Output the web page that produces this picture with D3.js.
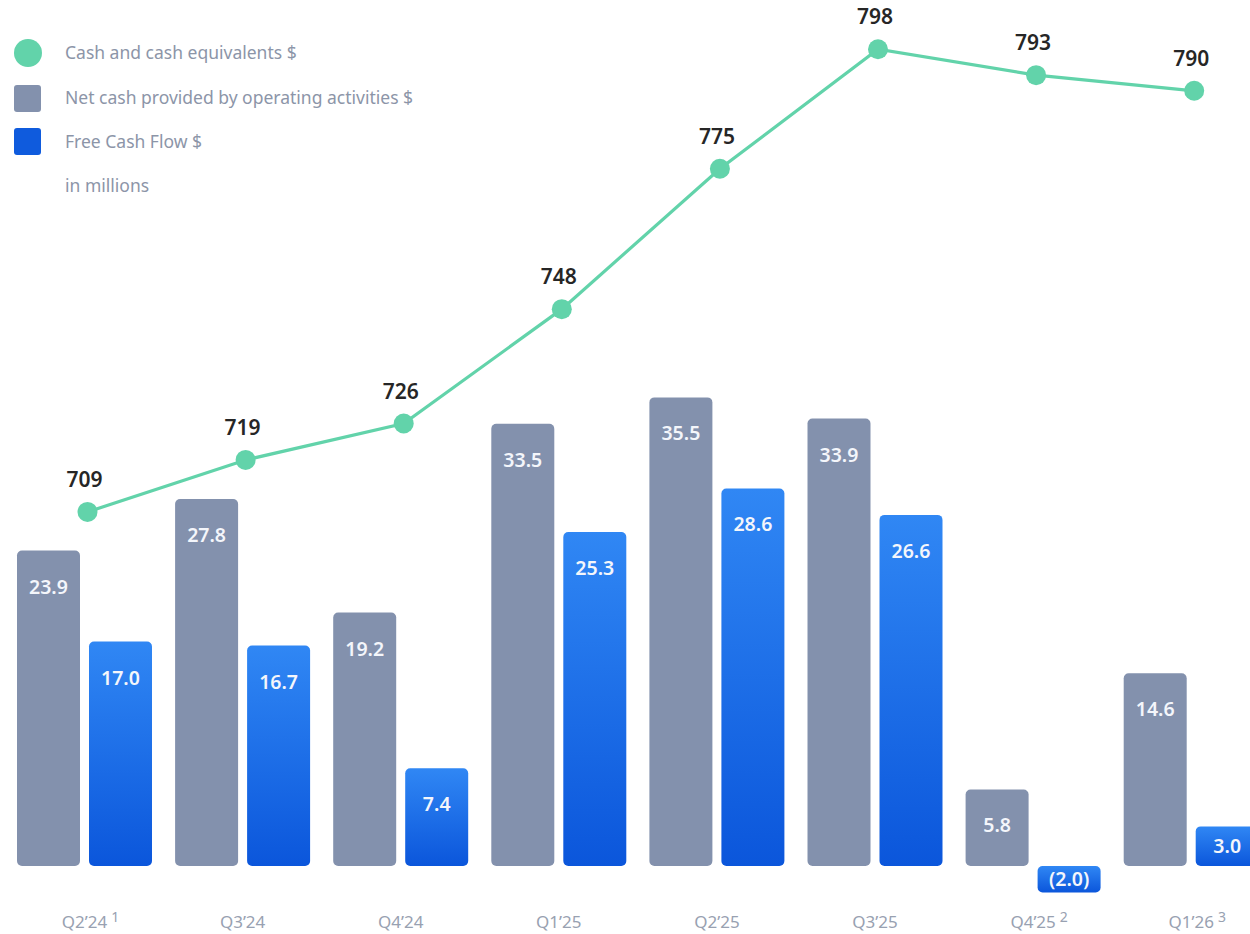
<!DOCTYPE html>
<html>
<head>
<meta charset="utf-8">
<script src="https://cdn.jsdelivr.net/npm/d3@7"></script>
<style>
  html, body { margin: 0; padding: 0; background: #fff; }
  svg { display: block; }
  text { font-family: "Noto Sans", "Open Sans", sans-serif; }
</style>
</head>
<body>
<svg id="chart" width="1250" height="934"></svg>
<script>
// Quarterly cash figures, in millions of dollars
const quarters = ["Q2’24", "Q3’24", "Q4’24", "Q1’25", "Q2’25", "Q3’25", "Q4’25", "Q1’26"];
const footnotes = ["1", "", "", "", "", "", "2", "3"];
const cashEquivalents = [709, 719, 726, 748, 775, 798, 793, 790];
const operatingCash = [23.9, 27.8, 19.2, 33.5, 35.5, 33.9, 5.8, 14.6];
const freeCashFlow = [17.0, 16.7, 7.4, 25.3, 28.6, 26.6, -2.0, 3.0];
const seriesKeys = ["operating", "free"];
const legendLabels = [
  "Cash and cash equivalents $",
  "Net cash provided by operating activities $",
  "Free Cash Flow $",
  "in millions"
];

const svg = d3.select("#chart");

const baseline = 866;
const x = d3.scalePoint().domain(quarters).range([84.5, 1191.2]);
const xInner = d3.scaleBand().domain(seriesKeys).range([-67.5, 67.5]).paddingInner(0.125);
const yBar = d3.scaleLinear().domain([0, 35.5]).range([baseline, baseline - 35.5 * 13.2]);
const yLine = d3.scaleLinear().domain([640.9, 800]).range([baseline, 38.8]);

const fmtBar = v => v < 0 ? "(" + d3.format(".1f")(-v) + ")" : d3.format(".1f")(v);

// Blue gradient for free cash flow bars
const defs = svg.append("defs");
const grad = defs.append("linearGradient")
  .attr("id", "fcfGrad").attr("x1", 0).attr("y1", 0).attr("x2", 0).attr("y2", 1);
grad.append("stop").attr("offset", "0%").attr("stop-color", "#3087f4");
grad.append("stop").attr("offset", "100%").attr("stop-color", "#0b56db");

const barData = [];
quarters.forEach((q, i) => {
  barData.push({ q, key: "operating", v: operatingCash[i] });
  barData.push({ q, key: "free", v: freeCashFlow[i] });
});

const bars = svg.append("g").attr("class", "bars");
bars.selectAll("rect")
  .data(barData)
  .join("rect")
  .attr("x", d => x(d.q) + xInner(d.key))
  .attr("width", xInner.bandwidth())
  .attr("y", d => Math.min(yBar(d.v), yBar(0)))
  .attr("height", d => Math.abs(yBar(d.v) - yBar(0)))
  .attr("rx", 5)
  .attr("fill", d => d.key === "operating" ? "#8391ad" : "url(#fcfGrad)");

bars.selectAll("text")
  .data(barData)
  .join("text")
  .attr("x", d => x(d.q) + xInner(d.key) + xInner.bandwidth() / 2)
  .attr("y", d => {
    const top = Math.min(yBar(d.v), yBar(0));
    const h = Math.abs(yBar(d.v) - yBar(0));
    return top + Math.min(36, h / 2) + 7;
  })
  .attr("text-anchor", "middle")
  .attr("font-size", 19.5)
  .attr("font-weight", 600)
  .attr("fill", "#f4f6fb")
  .text(d => fmtBar(d.v));

// Cash and cash equivalents line
const pts = quarters.map((q, i) => ({ q, v: cashEquivalents[i] }));
const line = d3.line().x(d => x(d.q) + 3).y(d => yLine(d.v));
svg.append("path")
  .datum(pts)
  .attr("d", line)
  .attr("fill", "none")
  .attr("stroke", "#62d3aa")
  .attr("stroke-width", 3.2);

svg.append("g").selectAll("circle")
  .data(pts)
  .join("circle")
  .attr("cx", d => x(d.q) + 3)
  .attr("cy", d => yLine(d.v))
  .attr("r", 10)
  .attr("fill", "#62d3aa");

svg.append("g").selectAll("text")
  .data(pts)
  .join("text")
  .attr("x", d => x(d.q))
  .attr("y", d => yLine(d.v) - 25)
  .attr("text-anchor", "middle")
  .attr("font-size", 21)
  .attr("font-weight", 600)
  .attr("fill", "#262626")
  .text(d => d.v);

// Category axis labels with footnote markers
const axis = svg.append("g").attr("class", "x-axis");
const ticks = axis.selectAll("g")
  .data(quarters)
  .join("g")
  .attr("transform", d => `translate(${x(d)},928)`);
const tickText = ticks.append("text")
  .attr("text-anchor", "middle")
  .attr("font-size", 17)
  .attr("fill", "#98a1b1")
  .text(d => d);
ticks.append("text")
  .attr("x", function(d, i) {
    return tickText.nodes()[i].getComputedTextLength() / 2 + 4;
  })
  .attr("y", -6)
  .attr("font-size", 14)
  .attr("fill", "#98a1b1")
  .text((d, i) => footnotes[i]);

// Legend
const legend = svg.append("g").attr("class", "legend");
legend.append("circle").attr("cx", 28).attr("cy", 53).attr("r", 14).attr("fill", "#62d3aa");
legend.append("rect").attr("x", 14).attr("y", 85).attr("width", 27).attr("height", 27).attr("rx", 3).attr("fill", "#8391ad");
legend.append("rect").attr("x", 14).attr("y", 128).attr("width", 27).attr("height", 27).attr("rx", 3).attr("fill", "#0f5bdd");
const legendY = [53, 98, 142, 186];
legend.selectAll("text.lbl")
  .data(legendLabels)
  .join("text")
  .attr("class", "lbl")
  .attr("x", 65)
  .attr("y", (d, i) => legendY[i] + 6)
  .attr("font-size", 17.5)
  .attr("fill", "#8c95a8")
  .text(d => d);
</script>
</body>
</html>
